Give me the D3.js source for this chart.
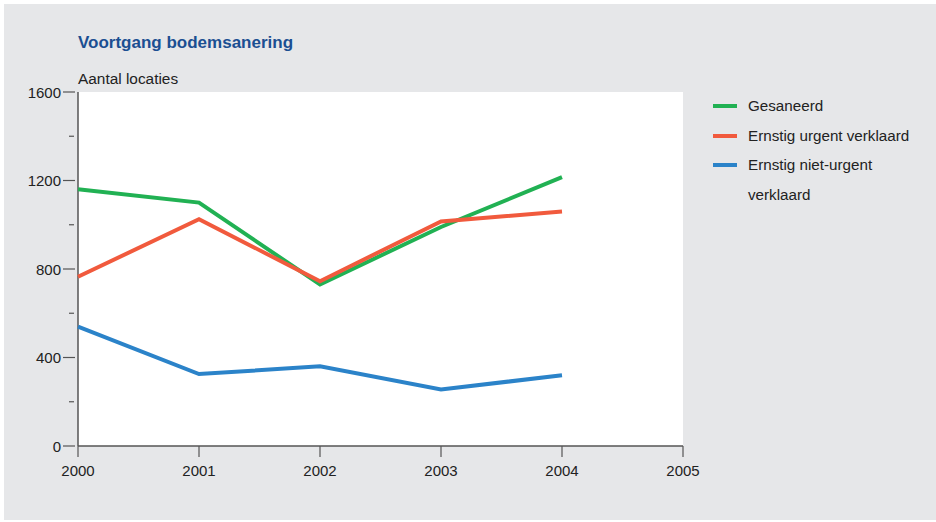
<!DOCTYPE html>
<html>
<head>
<meta charset="utf-8">
<script src="https://cdn.jsdelivr.net/npm/d3@7/dist/d3.min.js"></script>
<style>
  html, body { margin: 0; padding: 0; background: #ffffff; }
  svg { display: block; font-family: "Liberation Sans", Arial, sans-serif; }
</style>
</head>
<body>
<svg id="chart" width="936" height="522"></svg>
<script>
// Jaren en reeksen
const years = [2000, 2001, 2002, 2003, 2004];
const gesaneerd = [1160, 1100, 730, 990, 1215];
const urgent = [765, 1025, 745, 1015, 1060];
const nietUrgent = [540, 325, 360, 255, 320];

const seriesNames = ["Gesaneerd", "Ernstig urgent verklaard", "Ernstig niet-urgent verklaard"];
const seriesColors = ["#21b153", "#f15a3d", "#2b83c9"];
const yMajorTicks = [0, 400, 800, 1200, 1600];
const yMinorTicks = [200, 600, 1000, 1400];
const xTicks = [2000, 2001, 2002, 2003, 2004, 2005];

const svg = d3.select("#chart");

// achtergrond
svg.append("rect").attr("x", 4).attr("y", 4).attr("width", 932).attr("height", 516).attr("fill", "#e6e7e9");

const m = { left: 78, right: 683, top: 92, bottom: 446 };
const x = d3.scaleLinear().domain([2000, 2005]).range([m.left, m.right]);
const y = d3.scaleLinear().domain([0, 1600]).range([m.bottom, m.top]);

svg.append("rect").attr("x", m.left).attr("y", m.top)
  .attr("width", m.right - m.left).attr("height", m.bottom - m.top).attr("fill", "#ffffff");

// titels
svg.append("text").attr("x", 78).attr("y", 48).attr("fill", "#1b4f92")
  .attr("font-size", 17).attr("font-weight", "bold").text("Voortgang bodemsanering");
svg.append("text").attr("x", 78).attr("y", 84).attr("fill", "#222")
  .attr("font-size", 15.4).text("Aantal locaties");

const axisColor = "#555";

// y-as
const yAxis = svg.append("g");
yAxis.append("line").attr("x1", m.left).attr("x2", m.left).attr("y1", m.top).attr("y2", m.bottom)
  .attr("stroke", axisColor).attr("stroke-width", 1.5);
yAxis.selectAll("line.major").data(yMajorTicks).join("line").attr("class", "major")
  .attr("x1", 63).attr("x2", 75).attr("y1", d => y(d)).attr("y2", d => y(d))
  .attr("stroke", axisColor).attr("stroke-width", 1.2);
yAxis.selectAll("line.minor").data(yMinorTicks).join("line").attr("class", "minor")
  .attr("x1", 69).attr("x2", 74).attr("y1", d => y(d)).attr("y2", d => y(d))
  .attr("stroke", axisColor).attr("stroke-width", 1.2);
yAxis.selectAll("text").data(yMajorTicks).join("text")
  .attr("x", 61).attr("y", d => y(d) + 5.5).attr("text-anchor", "end")
  .attr("font-size", 15).attr("fill", "#222").text(d => d);

// x-as
const xAxis = svg.append("g");
xAxis.append("line").attr("x1", m.left).attr("x2", m.right).attr("y1", m.bottom).attr("y2", m.bottom)
  .attr("stroke", axisColor).attr("stroke-width", 1.5);
xAxis.selectAll("line.tick").data(xTicks).join("line").attr("class", "tick")
  .attr("x1", d => x(d)).attr("x2", d => x(d)).attr("y1", m.bottom).attr("y2", m.bottom + 11)
  .attr("stroke", axisColor).attr("stroke-width", 1.2);
xAxis.selectAll("text").data(xTicks).join("text")
  .attr("x", d => x(d)).attr("y", 476).attr("text-anchor", "middle")
  .attr("font-size", 15).attr("fill", "#222").text(d => d);

// lijnen
const line = d3.line().x((d, i) => x(years[i])).y(d => y(d));
[gesaneerd, urgent, nietUrgent].forEach((vals, i) => {
  svg.append("path").datum(vals).attr("d", line).attr("fill", "none")
    .attr("stroke", seriesColors[i]).attr("stroke-width", 4)
    .attr("stroke-linejoin", "miter").attr("stroke-linecap", "butt");
});

// legenda
const legendY = [106, 136, 165];
const legend = svg.append("g");
seriesNames.forEach((name, i) => {
  legend.append("line").attr("x1", 713).attr("x2", 737).attr("y1", legendY[i]).attr("y2", legendY[i])
    .attr("stroke", seriesColors[i]).attr("stroke-width", 4);
});
const legendFont = 15.2;
legend.append("text").attr("x", 748).attr("y", 111).attr("font-size", legendFont).attr("fill", "#222").text("Gesaneerd");
legend.append("text").attr("x", 748).attr("y", 141).attr("font-size", legendFont).attr("fill", "#222").text("Ernstig urgent verklaard");
legend.append("text").attr("x", 748).attr("y", 170).attr("font-size", legendFont).attr("fill", "#222").text("Ernstig niet-urgent");
legend.append("text").attr("x", 748).attr("y", 200).attr("font-size", legendFont).attr("fill", "#222").text("verklaard");
</script>
</body>
</html>
